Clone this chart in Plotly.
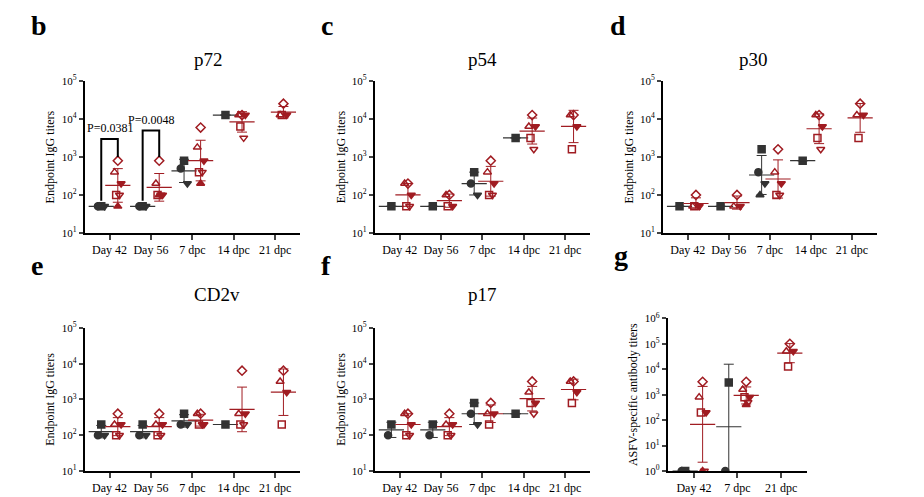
import numpy as np
import plotly.graph_objects as go

cats5 = ["Day 42", "Day 56", "7 dpc", "14 dpc", "21 dpc"]
cats3 = ["Day 42", "7 dpc", "21 dpc"]

p72_ctrl = [[50, 50, 50, 50], [50, 50, 50, 50], [800, 500, 200], [12800], []]
p72_vac = [[800, 400, 200, 100, 100, 50], [800, 200, 100, 100, 100, 100], [6000, 1800, 800, 400, 400, 200], [12800, 12800, 12800, 6400, 3200], [25600, 12800, 12800, 12800]]
p54_ctrl = [[50], [50], [400, 200, 100], [3200], []]
p54_vac = [[200, 200, 100, 50, 50], [100, 100, 50, 50], [800, 400, 200, 100, 100], [12800, 6400, 6400, 3200, 1600], [12800, 12800, 6400, 1600]]
p30_ctrl = [[50], [50], [1600, 400, 200, 100], [800], []]
p30_vac = [[100, 50, 50, 50], [100, 50, 50], [1600, 400, 200, 100, 100], [12800, 12800, 6400, 3200, 1600], [25600, 12800, 12800, 3200]]
cd2v_ctrl = [[200, 100, 100], [200, 100, 100], [400, 200, 200], [200], []]
cd2v_vac = [[400, 200, 200, 100, 100], [400, 200, 200, 100, 100], [400, 400, 200, 200, 200], [6400, 400, 400, 200, 200], [6400, 3200, 1600, 200]]
p17_ctrl = [[200, 100], [200, 100], [800, 400, 200], [400], []]
p17_vac = [[400, 400, 200, 100, 100], [400, 200, 200, 100, 100], [800, 400, 400, 200], [3200, 1600, 800, 800, 400], [3200, 3200, 1600, 800]]
asfv_ctrl = [[1, 1], [3000, 1], []]
asfv_vac = [[3200, 800, 200, 200, 1, 1], [3200, 1600, 800, 800, 500, 400], [100000, 51200, 51200, 12800]]

CTRL = "#333333"
VAC = "#a01c22"
ctrl_sym = ["square", "circle", "triangle-down", "triangle-up"]
vac_sym = ["diamond-open", "triangle-up-open", "triangle-down", "square-open", "triangle-down-open", "triangle-up"]
offs = [0.0, -0.08, 0.08, -0.04, 0.04, 0.0]

fig = go.Figure()
panels = [
    ("b", "p72", p72_ctrl, p72_vac, cats5, [0.083, 0.316], [0.551, 0.865], 5, "Endpoint IgG titers"),
    ("c", "p54", p54_ctrl, p54_vac, cats5, [0.397, 0.63], [0.551, 0.865], 5, "Endpoint IgG titers"),
    ("d", "p30", p30_ctrl, p30_vac, cats5, [0.709, 0.94], [0.551, 0.865], 5, "Endpoint IgG titers"),
    ("e", "CD2v", cd2v_ctrl, cd2v_vac, cats5, [0.083, 0.316], [0.058, 0.354], 5, "Endpoint IgG titers"),
    ("f", "p17", p17_ctrl, p17_vac, cats5, [0.397, 0.63], [0.058, 0.354], 5, "Endpoint IgG titers"),
    ("g", "", asfv_ctrl, asfv_vac, cats3, [0.714, 0.865], [0.058, 0.374], 6, "ASFV-specific antibody titers"),
]

for i, (lab, title, ctrl, vac, cats, xd, yd, ymaxexp, ytitle) in enumerate(panels):
    n = i + 1
    xa = "x" if n == 1 else f"x{n}"
    ya = "y" if n == 1 else f"y{n}"
    for gi in range(len(cats)):
        for grp, vals, syms, col, base in ((0, ctrl[gi], ctrl_sym, CTRL, -0.2), (1, vac[gi], vac_sym, VAC, 0.2)):
            if not vals:
                continue
            for k, v in enumerate(vals):
                fig.add_trace(go.Scatter(x=[gi + base + offs[k % len(offs)]], y=[v], mode="markers", xaxis=xa, yaxis=ya,
                    marker=dict(symbol=syms[k % len(syms)], color=col, size=7, line=dict(color=col, width=1.5)),
                    showlegend=False, hoverinfo="skip"))
            lv = np.log10(vals)
            m = lv.mean(); s = lv.std(ddof=1) if len(vals) > 1 else 0
            fig.add_trace(go.Scatter(x=[gi + base], y=[10 ** m], mode="markers", xaxis=xa, yaxis=ya,
                marker=dict(symbol="line-ew", size=18, line=dict(color=col, width=1.2)),
                error_y=dict(type="data", symmetric=False, array=[10 ** (m + s) - 10 ** m], arrayminus=[10 ** m - 10 ** (m - s)],
                             color=col, thickness=1, width=5),
                showlegend=False, hoverinfo="skip"))
    ymin = 0 if ymaxexp == 6 else 1
    ax = dict(domain=xd, range=[-0.6, len(cats) - 0.4], tickvals=list(range(len(cats))), ticktext=cats,
              showline=True, linecolor="black", linewidth=2, ticks="outside", ticklen=5, tickwidth=1.5,
              showgrid=False, zeroline=False, anchor=ya, tickfont=dict(size=12, family="Liberation Serif", color="black"))
    ay = dict(domain=yd, type="log", range=[ymin, ymaxexp], tickvals=[10 ** e for e in range(ymin, ymaxexp + 1)],
              ticktext=[f"10<sup>{e}</sup>" for e in range(ymin, ymaxexp + 1)],
              showline=True, linecolor="black", linewidth=2, ticks="outside", ticklen=4, tickwidth=1.5,
              showgrid=False, zeroline=False, anchor=xa,
              title=dict(text=ytitle, font=dict(size=12, family="Liberation Serif", color="black"), standoff=4),
              tickfont=dict(size=11, family="Liberation Serif", color="black"))
    fig.layout["xaxis" if n == 1 else f"xaxis{n}"] = ax
    fig.layout["yaxis" if n == 1 else f"yaxis{n}"] = ay
    fig.add_annotation(text=f"<b>{lab}</b>", x=xd[0] - 0.06, y=yd[1] + (0.115 if n <= 3 else 0.13), xref="paper", yref="paper",
                       showarrow=False, xanchor="left", yanchor="middle", font=dict(size=28, family="Liberation Serif", color="black"))
    if title:
        fig.add_annotation(text=title, x=(xd[0] + xd[1]) / 2, y=yd[1] + 0.07, xref="paper", yref="paper",
                           showarrow=False, font=dict(size=19, family="Liberation Serif", color="black"))

# significance brackets on p72
for gi, p, top in ((0, "P=0.0381", 3000), (1, "P=0.0048", 5000)):
    fig.add_trace(go.Scatter(x=[gi - 0.2, gi - 0.2, gi + 0.2, gi + 0.2], y=[70, top, top, 1000], mode="lines",
                             line=dict(color="black", width=2), xaxis="x", yaxis="y", showlegend=False, hoverinfo="skip"))
    fig.add_annotation(text=p, x=gi, y=np.log10(top * 1.9), xref="x", yref="y", showarrow=False,
                       font=dict(size=12, family="Liberation Serif", color="black"))

fig.update_layout(width=924, height=497, margin=dict(l=0, r=0, t=0, b=0),
                  plot_bgcolor="white", paper_bgcolor="white")
fig.write_html("out.html")
